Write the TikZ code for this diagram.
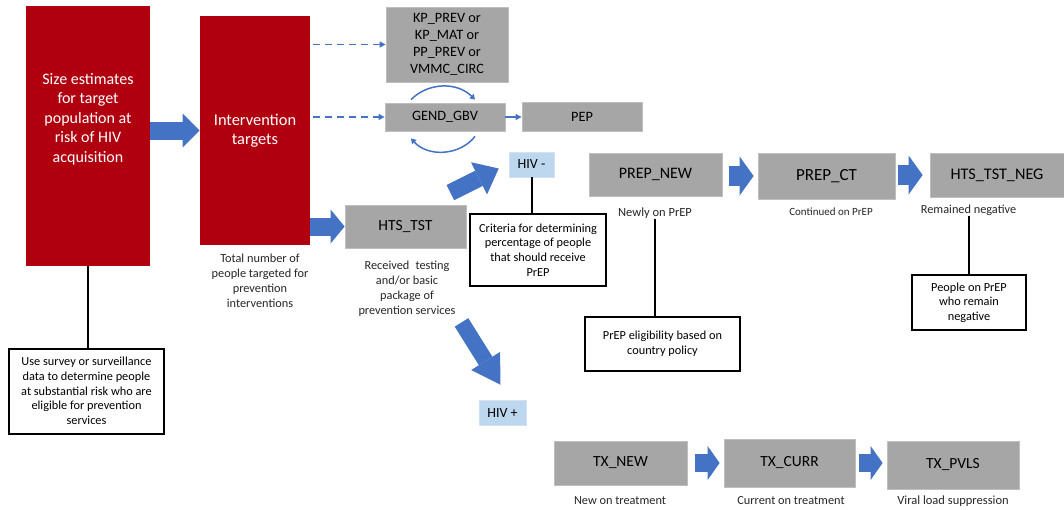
\documentclass[tikz,border=0pt]{standalone}
\usepackage{fontspec}
\setmainfont{Carlito}
\usetikzlibrary{arrows.meta,calc}

\definecolor{boxred}{HTML}{B0000F}
\definecolor{boxgray}{HTML}{A6A6A6}
\definecolor{arrowblue}{HTML}{4472C4}
\definecolor{hivblue}{HTML}{BDD7EE}

\newcommand{\txtsize}[2]{\fontsize{#1}{#2}\selectfont}

\begin{document}
\begin{tikzpicture}[x=1pt,y=-1pt,semithick,inner sep=0pt,
    blockarr/.style n args={3}{draw=arrowblue,line width=#1,
      -{Triangle[length=#3,width=#2,line width=0pt]}}]

  \tikzstyle{redbox}=[fill=boxred]
  \tikzstyle{graybox}=[fill=boxgray,draw=black!25,line width=0.8pt,align=center,
                       font=\txtsize{15.5}{17}]
  \tikzstyle{hivbox}=[fill=hivblue,draw=hivblue!70!white,font=\txtsize{14}{16}]
  \tikzstyle{notebox}=[fill=white,draw=black,line width=2pt,align=center,
                       font=\txtsize{12.3}{14.7}]
  \tikzstyle{caption}=[align=center,text=black!85,font=\txtsize{12.3}{15}]
  \tikzstyle{dasharr}=[draw=arrowblue,line width=1.2pt,dash pattern=on 7pt off 5pt,
                       -{Triangle[length=6pt,width=6pt]}]
  \tikzstyle{thinarr}=[draw=arrowblue,line width=1.2pt,-{Triangle[length=6pt,width=6pt]}]
  \tikzstyle{cycarr}=[draw=arrowblue,line width=1.5pt,-{Triangle[length=5pt,width=6pt]}]
  \tikzstyle{callout}=[draw=black,line width=2pt]

  \useasboundingbox (0,0) rectangle (1064,509);

  % red boxes
  \node[redbox,minimum width=124pt,minimum height=260pt] (size) at (88,136) {};
  \node[text=white,align=center,font=\txtsize{16}{19.5}] (sizetxt) at (88,119)
    {Size estimates\\for target\\population at\\risk of HIV\\acquisition};
  \node[redbox,minimum width=110pt,minimum height=229pt,text=white,align=center,
        font=\txtsize{16.4}{19.5}] (intv) at (255,130.5) {Intervention\\targets};
  \node[caption] (intvlbl) at (260,281)
    {Total number of\\people targeted for\\prevention\\interventions};

  % prevention boxes
  \node[graybox,minimum width=122pt,minimum height=75pt,font=\txtsize{14.3}{17}] (kp) at (447,44.5)
    {KP\_PREV or\\KP\_MAT or\\PP\_PREV or\\VMMC\_CIRC};
  \node[graybox,minimum width=120pt,minimum height=28pt,font=\txtsize{14.3}{15}] (gend) at (445,117) {GEND\_GBV};
  \node[graybox,minimum width=120pt,minimum height=29pt,font=\txtsize{14.3}{15}] (pep) at (582,116.5) {PEP};
  \node[graybox,minimum width=121pt,minimum height=43pt] (hts) at (405.5,226.5) {HTS\_TST};
  \node[caption] (htslbl) at (407,289)
    {Received\enspace testing\\and/or basic\\package of\\prevention services};

  % HIV negative branch
  \node[hivbox,minimum width=45pt,minimum height=25pt] (hivneg) at (531.5,164.5) {HIV -};
  \node[notebox,minimum width=136pt,minimum height=72pt] (crit) at (538,250)
    {Criteria for determining\\percentage of people\\that should receive\\PrEP};
  \node[graybox,minimum width=133pt,minimum height=43pt,font=\txtsize{16}{17}] (prepnew) at (655.5,174.5) {PREP\_NEW};
  \node[caption,font=\txtsize{12.5}{14}] (newlbl) at (655,213) {Newly on PrEP};
  \node[notebox,minimum width=155pt,minimum height=54pt] (elig) at (662.5,344)
    {PrEP eligibility based on\\country policy};
  \node[graybox,minimum width=137pt,minimum height=46pt,font=\txtsize{17}{18}] (prepct) at (826.5,176) {PREP\_CT};
  \node[caption,font=\txtsize{11}{13}] (ctlbl) at (831,212) {Continued on PrEP};
  \node[graybox,minimum width=134pt,minimum height=44pt,font=\txtsize{16.2}{17}] (htsneg) at (997,175) {HTS\_TST\_NEG};
  \node[caption] (remlbl) at (968.5,210) {Remained negative};
  \node[notebox,minimum width=114pt,minimum height=55pt] (remneg) at (969,302.5)
    {People on PrEP\\who remain\\negative};

  % HIV positive branch
  \node[hivbox,minimum width=47pt,minimum height=25pt] (hivpos) at (502.5,412.5) {HIV +};
  \node[graybox,minimum width=133pt,minimum height=44pt] (txnew) at (620.5,463) {TX\_NEW};
  \node[caption] (txnewlbl) at (620,501) {New on treatment};
  \node[graybox,minimum width=131pt,minimum height=48pt] (txcurr) at (789.5,463) {TX\_CURR};
  \node[caption] (txcurrlbl) at (791,501) {Current on treatment};
  \node[graybox,minimum width=132pt,minimum height=48pt] (txpvls) at (953,465) {TX\_PVLS};
  \node[caption,font=\txtsize{12.5}{14}] (txpvlslbl) at (953,501) {Viral load suppression};

  % survey note
  \node[notebox,minimum width=155pt,minimum height=85pt] (survey) at (86.5,391)
    {Use survey or surveillance\\data to determine people\\at substantial risk who are\\eligible for prevention\\services};

  % block arrows
  \draw[blockarr={18pt}{34pt}{17pt}] (size.east |- intv) -- (intv.west);
  \draw[blockarr={18pt}{34pt}{14pt}] (intv.east |- hts) -- (hts.west);
  \draw[blockarr={17pt}{36pt}{22pt}] ([shift={(-16,-12)}]hts.north east) -- ([shift={(-10,4)}]hivneg.west);
  \draw[blockarr={16pt}{34pt}{28pt}] ([shift={(56,74)}]hts.south) -- ([shift={(-2,-15)}]hivpos.north);
  \draw[blockarr={20pt}{39pt}{14pt},shorten <=7pt,shorten >=4pt] (prepnew.east |- prepct) -- (prepct.west);
  \draw[blockarr={20pt}{39pt}{14pt},shorten <=3pt,shorten >=7pt] (prepct.east |- htsneg) -- (htsneg.west);
  \draw[blockarr={18pt}{34pt}{12pt},shorten <=8pt,shorten >=4pt] (txnew.east |- txcurr) -- (txcurr.west);
  \draw[blockarr={18pt}{34pt}{12pt},shorten <=4pt,shorten >=4pt] (txcurr.east) -- (txcurr.east -| txpvls.west);

  % thin blue arrows
  \draw[dasharr] ([xshift=3pt]intv.east |- kp) -- (kp.west);
  \draw[dasharr] ([xshift=3pt]intv.east |- gend) -- (gend.west);
  \draw[thinarr] (gend.east) -- (gend.east -| pep.west);
  \draw[cycarr] ([shift={(-34,-3)}]gend.north) to[bend left=45] ([shift={(30,-3)}]gend.north);
  \draw[cycarr] ([shift={(30,5)}]gend.south) to[bend left=50] ([shift={(-34,7)}]gend.south);

  % callout lines
  \draw[callout] (size.south) -- (size.south |- survey.north);
  \draw[callout] (hivneg.south) -- (hivneg.south |- crit.north);
  \draw[callout] (newlbl.south) -- (newlbl.south |- elig.north);
  \draw[callout] (remlbl.south) -- (remlbl.south |- remneg.north);
\end{tikzpicture}
\end{document}
